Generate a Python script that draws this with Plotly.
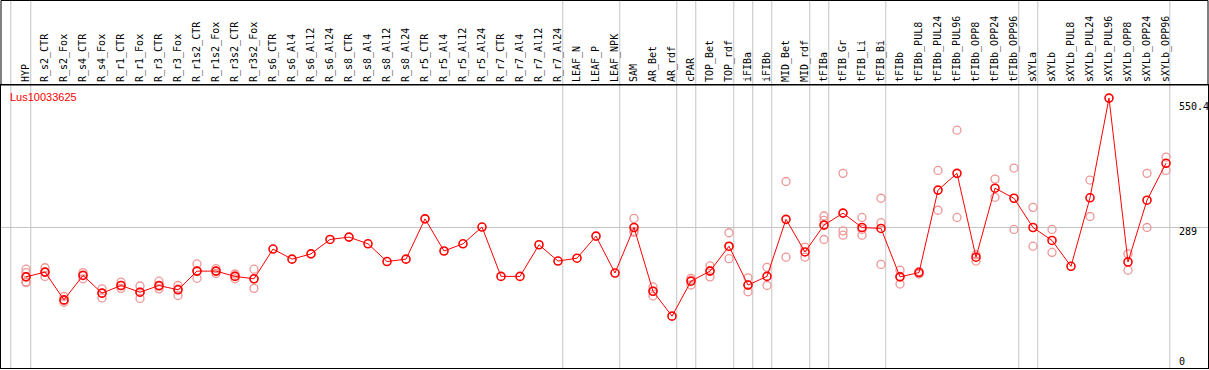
import plotly.graph_objects as go

categories = ["HYP", "R_s2_CTR", "R_s2_Fox", "R_s4_CTR", "R_s4_Fox", "R_r1_CTR", "R_r1_Fox",
              "R_r3_CTR", "R_r3_Fox", "R_r1s2_CTR", "R_r1s2_Fox", "R_r3s2_CTR", "R_r3s2_Fox",
              "R_s6_CTR", "R_s6_Al4", "R_s6_Al12", "R_s6_Al24", "R_s8_CTR", "R_s8_Al4",
              "R_s8_Al12", "R_s8_Al24", "R_r5_CTR", "R_r5_Al4", "R_r5_Al12", "R_r5_Al24",
              "R_r7_CTR", "R_r7_Al4", "R_r7_Al12", "R_r7_Al24", "LEAF_N", "LEAF_P", "LEAF_NPK",
              "SAM", "AR_Bet", "AR_rdf", "cPAR", "TOP_Bet", "TOP_rdf", "iFIBa", "iFIBb",
              "MID_Bet", "MID_rdf", "tFIBa", "tFIB_Gr", "tFIB_Li", "tFIB_Bi", "tFIBb",
              "tFIBb_PUL8", "tFIBb_PUL24", "tFIBb_PUL96", "tFIBb_OPP8", "tFIBb_OPP24",
              "tFIBb_OPP96", "sXYLa", "sXYLb", "sXYLb_PUL8", "sXYLb_PUL24", "sXYLb_PUL96",
              "sXYLb_OPP8", "sXYLb_OPP24", "sXYLb_OPP96"]

mean_values = [187, 197, 139, 190, 153, 169, 155, 169, 160, 199, 199, 188, 183,
               245, 224, 235, 265, 270, 256, 219, 224, 308, 241, 256, 291,
               188, 188, 254, 220, 226, 272, 195,
               290, 157, 105, 178, 199, 251, 170, 188, 307, 239,
               295, 320, 290, 288, 187, 196, 368, 403, 228, 372, 351,
               290, 263, 209, 352, 560, 218, 347, 424]

replicates = [[203, 196, 177, 175], [206, 197, 188], [146, 138, 134], [196, 191, 183],
              [162, 153, 143], [176, 169, 163], [168, 155, 142], [178, 167, 162],
              [169, 162, 148], [214, 199, 184], [204, 199, 194], [193, 189, 183],
              [203, 183, 163],
              [], [], [], [], [], [], [], [], [], [], [], [], [], [], [], [], [], [], [],
              [309, 282, 280], [166, 157, 147], [], [184, 180, 170], [210, 200, 187],
              [279, 250, 225], [185, 170, 156], [207, 169], [386, 228], [249, 228],
              [314, 305, 265], [403, 283, 274], [311, 286, 274], [351, 300, 213],
              [201, 188, 172], [198, 193], [409, 326], [493, 311], [233, 220],
              [391, 353], [414, 286], [332, 251], [286, 238], [], [389, 313], [],
              [235, 201], [403, 290], [437, 409]]

group_separators = [-0.8, 0.25, 28.25, 31.25, 34.25, 35.25, 37.25, 38.25, 39.25,
                    41.25, 42.25, 45.25, 52.25, 53.25, 60.2]

right_labels = [550.4, 289, 0]
gene_name = "Lus10033625"

idx = list(range(len(categories)))
rep_x, rep_y = [], []
for i, reps in enumerate(replicates):
    for v in reps:
        rep_x.append(i)
        rep_y.append(v)

fig = go.Figure()
fig.add_trace(go.Scatter(x=rep_x, y=rep_y, mode="markers",
                         marker=dict(symbol="circle-open", size=8, color="rgb(238,150,150)",
                                     line=dict(width=1.3)),
                         hoverinfo="skip", showlegend=False, cliponaxis=False))
fig.add_trace(go.Scatter(x=idx, y=mean_values, mode="lines+markers",
                         line=dict(color="#ff0000", width=1),
                         marker=dict(symbol="circle-open", size=8, color="#ff0000",
                                     line=dict(width=1.6)),
                         hoverinfo="skip", showlegend=False, cliponaxis=False))

H = 283.0
top_paper = (368 - 0.5) / H
for s in group_separators:
    fig.add_shape(type="line", xref="x", yref="paper", x0=s, x1=s, y0=0, y1=top_paper,
                  line=dict(color="#c4c4c4", width=1), layer="below")

fig.add_shape(type="rect", xref="paper", yref="paper", x0=0, x1=1, y0=1, y1=top_paper,
              line=dict(color="black", width=1), fillcolor="rgba(0,0,0,0)")

shifts = {550.4: -4, 289: -4, 0: 5}
for v in right_labels:
    txt = ("%g" % v)
    fig.add_annotation(x=(1177 - 1) / 1207.0, xref="paper", y=v, yref="y",
                       text=txt, showarrow=False, xanchor="left", yanchor="middle",
                       yshift=shifts[v],
                       font=dict(family="DejaVu Sans Mono", size=10, color="black"))

fig.add_annotation(x=(8 - 1) / 1207.0, xref="paper", y=(368 - 97) / H, yref="paper",
                   text=gene_name, showarrow=False, xanchor="left", yanchor="middle",
                   font=dict(family="Liberation Sans, Arial", size=11, color="#ff0000"))

x0 = -25.0 / 19.0
x1 = x0 + 1207.0 / 19.0
fig.update_layout(
    width=1209, height=370,
    margin=dict(l=1, r=1, t=85, b=2, pad=0, autoexpand=False),
    paper_bgcolor="white", plot_bgcolor="white",
    xaxis=dict(range=[x0, x1], side="top", tickmode="array", tickvals=idx,
               ticktext=categories, tickangle=-90, ticks="", showgrid=False,
               zeroline=False, showline=True, mirror=True, linecolor="black", linewidth=1,
               tickfont=dict(family="DejaVu Sans Mono", size=10, color="black"),
               fixedrange=True, automargin=False),
    yaxis=dict(range=[-3.13, 587.3], tickmode="array", tickvals=[289], showticklabels=False,
               ticks="", showgrid=True, gridcolor="#c4c4c4", gridwidth=1, zeroline=False,
               showline=True, mirror=True, linecolor="black", linewidth=1, fixedrange=True,
               automargin=False),
)

fig.write_html("out.html", config={"displayModeBar": False},
               post_script="document.body.style.margin='0';document.body.style.overflow='hidden';")
